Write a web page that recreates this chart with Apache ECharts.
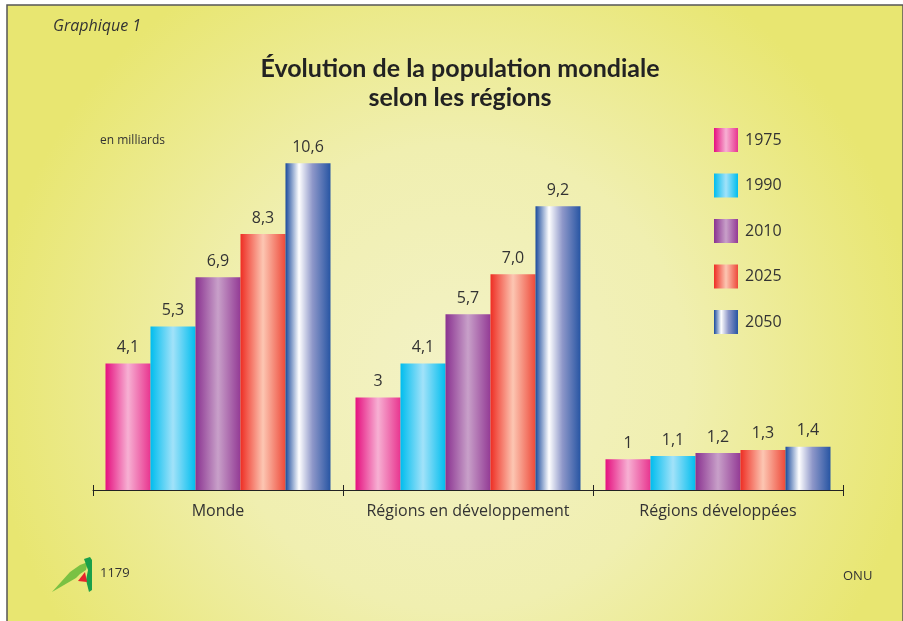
<!DOCTYPE html>
<html>
<head>
<meta charset="utf-8">
<script src="https://cdn.jsdelivr.net/npm/echarts@6/dist/echarts.min.js"></script>
<style>
html,body{margin:0;padding:0;background:#fff;}
#c{width:903px;height:621px;}
</style>
</head>
<body>
<div id="c"></div>
<script>
var categories = ['Monde', 'Régions en développement', 'Régions développées'];
var years = ['1975', '1990', '2010', '2025', '2050'];
var v1975 = [4.1, 3, 1];
var v1990 = [5.3, 4.1, 1.1];
var v2010 = [6.9, 5.7, 1.2];
var v2025 = [8.3, 7.0, 1.3];
var v2050 = [10.6, 9.2, 1.4];
var labels1975 = ['4,1', '3', '1'];
var labels1990 = ['5,3', '4,1', '1,1'];
var labels2010 = ['6,9', '5,7', '1,2'];
var labels2025 = ['8,3', '7,0', '1,3'];
var labels2050 = ['10,6', '9,2', '1,4'];

var FONT = '"Open Sans"';
var TFONT = 'Lato';
function grad(stops) {
  return { type: 'linear', x: 0, y: 0, x2: 1, y2: 0,
    colorStops: stops.map(function (s) { return { offset: s[0], color: s[1] }; }) };
}
var gradients = [
  grad([[0, '#e5107f'], [0.5, '#f7b0d3'], [1, '#e8358f']]),
  grad([[0, '#00bdee'], [0.5, '#a2e2f9'], [1, '#00bdee']]),
  grad([[0, '#8a3290'], [0.5, '#c8a0c9'], [1, '#933a95']]),
  grad([[0, '#ee2e24'], [0.5, '#fcc6b2'], [1, '#ee4a3a']]),
  grad([[0, '#1a4a9c'], [0.3, '#ffffff'], [0.6, '#8e97c9'], [1, '#2755a3']])
];
var values = [v1975, v1990, v2010, v2025, v2050];
var labelSets = [labels1975, labels1990, labels2010, labels2025, labels2050];

var series = years.map(function (y, i) {
  return {
    name: y, type: 'bar', barGap: '0%', barCategoryGap: '10%',
    data: values[i],
    itemStyle: { color: gradients[i] },
    label: {
      show: true, position: 'top', distance: 8,
      fontFamily: FONT, fontSize: 16, color: '#333',
      formatter: function (p) { return labelSets[i][p.dataIndex]; }
    },
    emphasis: { disabled: true }
  };
});

var chart = echarts.init(document.getElementById('c'), null, { renderer: 'canvas' });
chart.setOption({
  animation: false,
  backgroundColor: '#ffffff',
  graphic: [
    { type: 'rect', z: -10, shape: { x: 7, y: 5, width: 896, height: 620 },
      style: { fill: { type: 'radial', x: 0.5, y: 0.6, r: 0.75,
        colorStops: [{ offset: 0, color: '#f3f2c6' }, { offset: 0.5, color: '#f0efb0' }, { offset: 1, color: '#e8e671' }] },
        stroke: '#555', lineWidth: 1.5 } },
    { type: 'text', left: 53, top: 18, style: { text: 'Graphique 1', fontFamily: FONT, fontStyle: 'italic', fontSize: 16, fill: '#333' } },
    { type: 'text', left: 100, top: 135, style: { text: 'en milliards', fontFamily: FONT, fontSize: 12, fill: '#333' } },
    { type: 'text', left: 100, top: 567, style: { text: '1179', fontFamily: FONT, fontSize: 13, fill: '#333' } },
    { type: 'text', left: 843, top: 570, style: { text: 'ONU', fontFamily: FONT, fontSize: 13, fill: '#333' } },
    { type: 'polygon', shape: { points: [[52, 592], [70, 572], [80, 565], [88, 562], [86, 570], [80, 574], [76, 578]] }, style: { fill: '#7ac143' } },
    { type: 'polygon', shape: { points: [[84, 559], [90, 557], [92, 560], [92, 590], [89, 592], [86, 580], [88, 570]] }, style: { fill: '#1aa04a' } },
    { type: 'polygon', shape: { points: [[78, 581], [85, 572], [87, 582]] }, style: { fill: '#e7232c' } }
  ],
  title: {
    text: 'Évolution de la population mondiale\nselon les régions',
    left: 455, top: 49, textAlign: 'center',
    textStyle: { fontFamily: TFONT, fontWeight: 'bold', fontSize: 25, lineHeight: 29, color: '#222' }
  },
  legend: {
    orient: 'vertical', left: 709, top: 123,
    itemWidth: 24, itemHeight: 24, itemGap: 21.5,
    icon: 'rect',
    textStyle: { fontFamily: FONT, fontSize: 16, color: '#333', padding: [0, 0, 0, 2] },
    data: years
  },
  grid: { left: 93, right: 60, top: 120, bottom: 131, containLabel: false },
  xAxis: [{
    type: 'category', data: categories,
    axisLine: { lineStyle: { color: '#222', width: 1 } },
    axisTick: { show: true, length: 6, lineStyle: { color: '#222' } },
    axisLabel: { interval: 0, hideOverlap: false, fontFamily: FONT, fontSize: 16, color: '#333', margin: 13 }
  }, {
    type: 'category', data: categories, position: 'bottom',
    axisLine: { show: false },
    axisTick: { show: true, inside: true, length: 5, lineStyle: { color: '#222' } },
    axisLabel: { show: false }
  }],
  yAxis: { type: 'value', min: 0, max: 12, show: false, splitLine: { show: false } },
  series: series
});
</script>
</body>
</html>
